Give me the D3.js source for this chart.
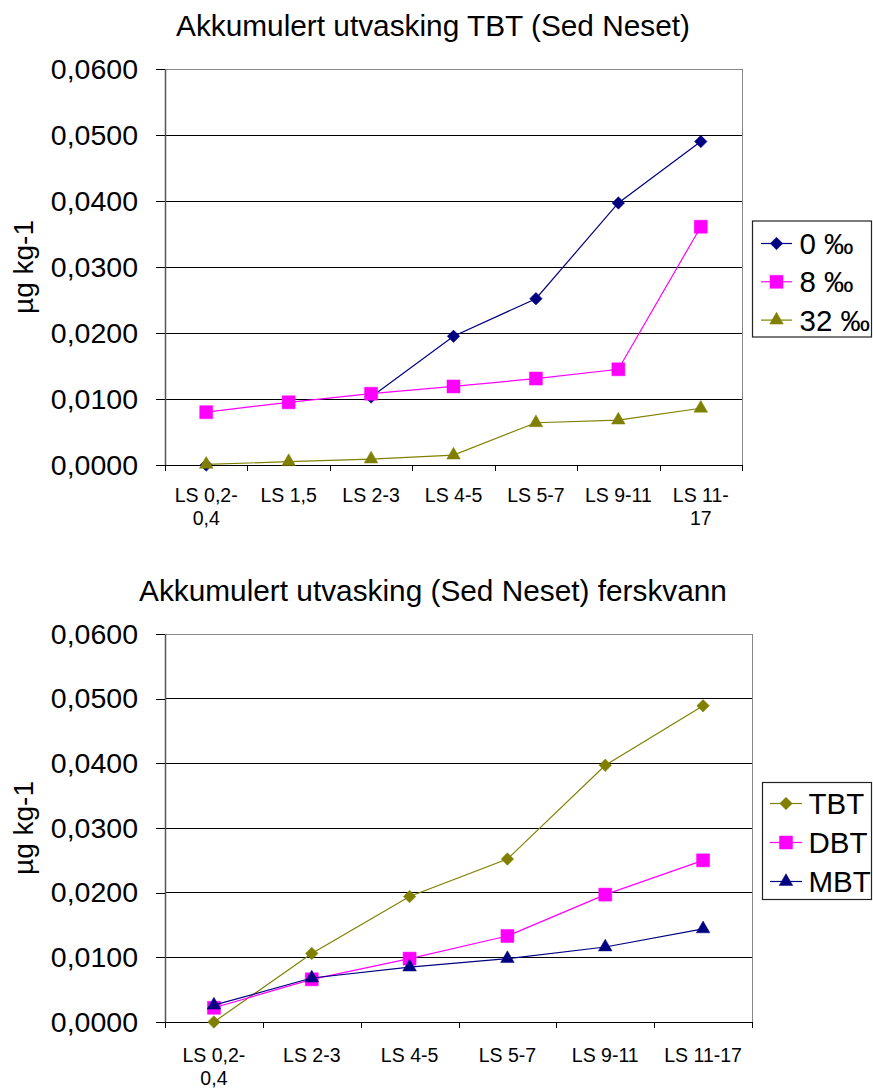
<!DOCTYPE html>
<html>
<head>
<meta charset="utf-8">
<script src="https://cdn.jsdelivr.net/npm/d3@7"></script>
<style>
  body { margin: 0; background: #fff; }
  svg { display: block; font-family: "Liberation Sans", Arial, sans-serif; }
</style>
</head>
<body>
<svg id="chart" width="873" height="1090"></svg>
<script>
// chart 1: TBT by salinity
var categories1 = ["LS 0,2-0,4", "LS 1,5", "LS 2-3", "LS 4-5", "LS 5-7", "LS 9-11", "LS 11-17"]
var salt0  = [0.0000, null,   0.0103, 0.0195, 0.0252, 0.0397, 0.0490]
var salt8  = [0.0080, 0.0095, 0.0108, 0.0119, 0.0131, 0.0145, 0.0361]
var salt32 = [0.0001, 0.0005, 0.0009, 0.0015, 0.0064, 0.0068, 0.0086]

// chart 2: freshwater, TBT / DBT / MBT
var categories2 = ["LS 0,2-0,4", "LS 2-3", "LS 4-5", "LS 5-7", "LS 9-11", "LS 11-17"]
var tbt = [0.0000, 0.0106, 0.0194, 0.0252, 0.0397, 0.0489]
var dbt = [0.0022, 0.0066, 0.0098, 0.0133, 0.0197, 0.0250]
var mbt = [0.0026, 0.0068, 0.0085, 0.0098, 0.0116, 0.0144]

var yTicks = [0, 0.01, 0.02, 0.03, 0.04, 0.05, 0.06]

var navy = "#000080", magenta = "#FF00FF", olive = "#808000"

var svg = d3.select("#chart")

drawChart({
	title: "Akkumulert utvasking TBT (Sed Neset)",
	categories: categories1,
	series: [
		{name: "0 \u2030",  values: salt0,  color: navy,    marker: "diamond"},
		{name: "8 \u2030",  values: salt8,  color: magenta, marker: "square"},
		{name: "32 \u2030", values: salt32, color: olive,   marker: "triangle"}
	],
	left: 165, right: 742, top: 69, bottom: 465, titleY: 36, labelPad: 23,
	legend: {x: 752.5, y: 221, w: 119, h: 116, row0: 243.5, dy: 38.3, line1: 761, line2: 792, text: 799.5}
})

drawChart({
	title: "Akkumulert utvasking (Sed Neset) ferskvann",
	categories: categories2,
	series: [
		{name: "TBT", values: tbt, color: olive,   marker: "diamond"},
		{name: "DBT", values: dbt, color: magenta, marker: "square"},
		{name: "MBT", values: mbt, color: navy,    marker: "triangle"}
	],
	left: 165, right: 752, top: 634, bottom: 1022, titleY: 601, labelPad: 26,
	legend: {x: 762.5, y: 782.5, w: 109, h: 117, row0: 803.5, dy: 39, line1: 770, line2: 802, text: 808.5}
})

function markerPath(type){
	if (type == "diamond")  return d3.symbol(d3.symbolSquare, 78)()
	if (type == "square")   return d3.symbol(d3.symbolSquare, 169)()
	return d3.symbol(d3.symbolTriangle, 80)()
}

function drawMarker(g, type, color, x, y){
	g.append("path")
		.attr("d", markerPath(type))
		.attr("transform", "translate(" + x + "," + y + ")" + (type == "diamond" ? " rotate(45)" : ""))
		.attr("fill", color)
		.attr("stroke", color)
		.attr("stroke-width", 0.5)
}

function drawChart(c){
	var g = svg.append("g")

	var x = d3.scaleBand().domain(c.categories).range([c.left, c.right])
	var xEdge = d3.scaleLinear().domain([0, c.categories.length]).range([c.left, c.right])
	var y = d3.scaleLinear().domain([0, 0.06]).range([c.bottom, c.top])

	// title
	g.append("text")
		.attr("x", 433)
		.attr("y", c.titleY)
		.attr("text-anchor", "middle")
		.attr("font-size", 29.8)
		.text(c.title)

	// plot area border
	g.append("rect")
		.attr("x", c.left)
		.attr("y", c.top)
		.attr("width", c.right - c.left)
		.attr("height", c.bottom - c.top)
		.attr("fill", "none")
		.attr("stroke", "#888")
		.attr("stroke-width", 1)
		.attr("shape-rendering", "crispEdges")

	// gridlines
	g.selectAll(".grid")
			.data(yTicks.filter(function(d){ return d > 0 && d < 0.06 }))
		.enter().append("line")
			.attr("class", "grid")
			.attr("x1", c.left)
			.attr("x2", c.right)
			.attr("y1", function(d){ return y(d) })
			.attr("y2", function(d){ return y(d) })
			.attr("stroke", "#000")
			.attr("shape-rendering", "crispEdges")

	// y axis
	var yAxis = g.append("g")
		.attr("transform", "translate(" + c.left + ",0)")
		.call(d3.axisLeft(y)
			.tickValues(yTicks)
			.tickSize(9)
			.tickSizeOuter(0)
			.tickPadding(18)
			.tickFormat(function(d){ return d3.format(".4f")(d).replace(".", ",") }))
	yAxis.select(".domain").attr("stroke", "#555").attr("stroke-width", 1.5)
	yAxis.selectAll(".tick line").attr("stroke", "#000").attr("shape-rendering", "crispEdges")
	yAxis.selectAll("text")
		.attr("font-size", 28.5)
		.attr("fill", "#000")
	yAxis.attr("font-family", null).attr("font-size", null)

	// y axis title
	g.append("text")
		.attr("transform", "translate(33," + ((c.top + c.bottom) / 2) + ") rotate(-90)")
		.attr("text-anchor", "middle")
		.attr("font-size", 28)
		.text("\u00b5g kg-1")

	// x axis: boundary ticks
	var xTicks = g.append("g")
		.attr("transform", "translate(0," + c.bottom + ")")
		.call(d3.axisBottom(xEdge)
			.tickValues(d3.range(c.categories.length + 1))
			.tickSize(6)
			.tickSizeOuter(0)
			.tickFormat(""))
	xTicks.select(".domain").attr("stroke", "#000")
	xTicks.selectAll(".tick line").attr("stroke", "#000").attr("shape-rendering", "crispEdges")

	// x axis: category labels
	var xLabels = g.append("g")
		.attr("transform", "translate(0," + c.bottom + ")")
		.call(d3.axisBottom(x).tickSize(0).tickPadding(c.labelPad))
	xLabels.select(".domain").remove()
	xLabels.attr("font-family", null).attr("font-size", null)
	xLabels.selectAll("text")
		.attr("font-size", 19.5)
		.attr("fill", "#000")
		.each(function(d){ wrapLabel(d3.select(this), d, x.bandwidth() - 10) })

	// series
	var line = d3.line()
		.defined(function(d){ return d.v != null })
		.x(function(d){ return x(d.c) + x.bandwidth() / 2 })
		.y(function(d){ return y(d.v) })

	c.series.forEach(function(s){
		var pts = s.values.map(function(v, i){ return {c: c.categories[i], v: v} })
		g.append("path")
			.datum(pts)
			.attr("d", line)
			.attr("fill", "none")
			.attr("stroke", s.color)
			.attr("stroke-width", 1.2)
		pts.filter(function(d){ return d.v != null }).forEach(function(d){
			drawMarker(g, s.marker, s.color, x(d.c) + x.bandwidth() / 2, y(d.v))
		})
	})

	// legend
	var L = c.legend
	g.append("rect")
		.attr("x", L.x)
		.attr("y", L.y)
		.attr("width", L.w)
		.attr("height", L.h)
		.attr("fill", "#fff")
		.attr("stroke", "#222")
		.attr("stroke-width", 1.2)
	c.series.forEach(function(s, i){
		var ry = L.row0 + i * L.dy
		g.append("line")
			.attr("x1", L.line1)
			.attr("x2", L.line2)
			.attr("y1", ry)
			.attr("y2", ry)
			.attr("stroke", s.color)
			.attr("stroke-width", 1.2)
		drawMarker(g, s.marker, s.color, (L.line1 + L.line2) / 2, ry)
		g.append("text")
			.attr("x", L.text)
			.attr("y", ry)
			.attr("dy", "0.36em")
			.attr("font-size", 29.5)
			.text(s.name)
	})
}

function wrapLabel(text, label, maxWidth){
	if (text.node().getComputedTextLength() <= maxWidth) return
	var cut = label.lastIndexOf("-")
	if (cut < 0) return
	var dy = text.attr("dy")
	text.text(null)
	text.append("tspan").attr("x", 0).attr("dy", dy).text(label.slice(0, cut + 1))
	text.append("tspan").attr("x", 0).attr("dy", "1.19em").text(label.slice(cut + 1))
}
</script>
</body>
</html>
